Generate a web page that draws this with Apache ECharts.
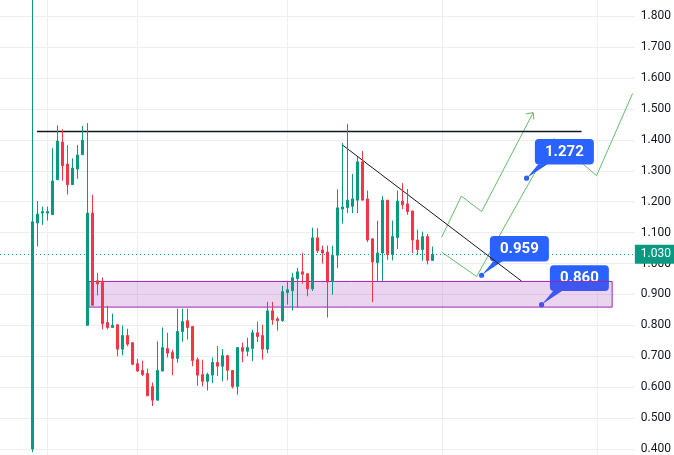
<!DOCTYPE html>
<html>
<head>
<meta charset="utf-8">
<script src="https://cdn.jsdelivr.net/npm/echarts@6/dist/echarts.min.js"></script>
<style>
html,body{margin:0;padding:0;background:#fff;}
#chart{width:674px;height:455px;}
</style>
</head>
<body>
<div id="chart"></div>
<script>
// ---- Candle data (daily-ish bars) ----
const opens  = [0.400,1.131,1.163,1.163,1.158,1.271,1.393,1.322,1.255,1.306,1.352,0.800,1.163,0.944,0.939,0.809,0.793,0.802,0.723,0.767,0.744,0.676,0.654,0.644,0.602,0.558,0.652,0.725,0.712,0.693,0.780,0.815,0.796,0.689,0.641,0.619,0.639,0.680,0.668,0.702,0.654,0.602,0.728,0.716,0.725,0.776,0.767,0.723,0.847,0.821,0.815,0.906,0.912,0.951,0.973,0.967,0.918,1.083,1.044,1.037,0.943,1.027,1.176,1.181,1.185,1.205,1.329,1.209,1.080,1.003,1.034,1.205,1.029,1.084,1.202,1.193,1.170,1.076,1.045,1.087,1.010];
const closes = [1.135,1.160,1.168,1.168,1.267,1.396,1.316,1.255,1.309,1.351,1.399,1.163,0.865,0.934,0.805,0.793,0.800,0.723,0.767,0.739,0.674,0.652,0.641,0.572,0.558,0.654,0.728,0.710,0.693,0.780,0.812,0.793,0.686,0.639,0.619,0.641,0.680,0.668,0.702,0.655,0.602,0.728,0.716,0.728,0.776,0.764,0.723,0.847,0.818,0.815,0.909,0.915,0.954,0.973,0.965,0.918,1.083,1.041,1.034,0.940,1.027,1.180,1.183,1.205,1.209,1.329,1.205,1.076,1.005,1.034,1.205,1.029,1.087,1.202,1.190,1.168,1.076,1.045,1.087,1.010,1.030];
const lows   = [0.390,1.055,1.125,1.139,1.158,1.270,1.268,1.223,1.255,1.274,1.352,0.800,0.865,0.897,0.787,0.787,0.793,0.700,0.703,0.732,0.671,0.650,0.636,0.571,0.539,0.558,0.652,0.696,0.639,0.679,0.747,0.754,0.668,0.605,0.603,0.589,0.613,0.636,0.619,0.622,0.596,0.576,0.681,0.700,0.684,0.746,0.690,0.710,0.802,0.783,0.812,0.867,0.848,0.858,0.935,0.894,0.911,1.034,1.000,0.825,0.899,0.985,1.129,1.163,1.163,1.163,1.205,1.069,0.875,0.944,0.944,1.012,1.010,1.047,1.176,1.158,1.034,1.028,1.009,0.997,1.010];
const highs  = [1.870,1.202,1.184,1.184,1.373,1.447,1.434,1.383,1.340,1.383,1.445,1.454,1.222,0.970,0.955,0.863,0.838,0.802,0.799,0.789,0.745,0.692,0.686,0.660,0.615,0.748,0.793,0.776,0.721,0.854,0.854,0.854,0.798,0.696,0.689,0.647,0.696,0.733,0.723,0.705,0.654,0.728,0.744,0.760,0.786,0.812,0.802,0.876,0.876,0.828,0.928,0.944,0.970,0.986,1.035,0.967,1.116,1.114,1.058,1.058,1.057,1.240,1.390,1.451,1.290,1.345,1.364,1.236,1.080,1.138,1.218,1.205,1.139,1.236,1.260,1.241,1.170,1.109,1.103,1.096,1.055];

// slot layout of the time axis
const leadSlots = 6;
const totalSlots = 127;

// ---- Axis ticks ----
const yMin = 0.4, yMax = 1.8, yStep = 0.1;
const lastPrice = 1.030;

// ---- Drawings (x in slot units, y in price) ----
const vGridX = [9, 27, 57, 88, 119];
const hLineX = [6.9, 115.84];
const hLineY = [1.427, 1.427];
const trendX = [67.96, 103.84];
const trendY = [1.384, 0.943];
const rectX = [17.3, 121.96];
const rectY = [0.942, 0.859];
const pathAX = [87.84, 91.8, 95.84, 106.16];
const pathAY = [1.085, 1.218, 1.168, 1.488];
const arrowX = [104.7, 106.16, 106.3];
const arrowY = [1.484, 1.488, 1.466];
const pathBX = [87.84, 94.84, 110.3, 118.84, 126.04];
const pathBY = [1.037, 0.958, 1.404, 1.284, 1.550];
const calloutX = [95.84, 104.84, 107.84];
const calloutY = [0.962, 1.276, 0.867];
const calloutText = ['0.959', '1.272', '0.860'];

const GREEN = '#089981', RED = '#f23645', BLUE = '#2962ff';
const GRID = '#eceef2';

const cats = [];
const candles = [];
for (let k = 0; k < totalSlots; k++) {
  cats.push(String(k));
  const i = k - leadSlots;
  if (i >= 0 && i < opens.length) candles.push([opens[i], closes[i], lows[i], highs[i]]);
  else candles.push('-');
}
const zip = (xs, ys) => xs.map((x, i) => [x, ys[i]]);

const chart = echarts.init(document.getElementById('chart'), null, {renderer: 'canvas'});

const series = [];
vGridX.forEach(x => series.push({
  type: 'line', xAxisIndex: 1, yAxisIndex: 0, z: 0, clip: false, silent: true,
  symbol: 'none', data: [[x, 0.3], [x, 1.95]],
  lineStyle: {color: GRID, width: 1}
}));
series.push({
  type: 'line', xAxisIndex: 1, yAxisIndex: 0, z: 4, symbol: 'none', silent: true,
  data: [[rectX[0], rectY[0]]], lineStyle: {width: 0},
  markArea: {
    silent: true, z: 4,
    itemStyle: {color: 'rgba(156,39,176,0.2)', borderColor: '#9c27b0', borderWidth: 1},
    data: [[{xAxis: rectX[0], yAxis: rectY[0]}, {xAxis: rectX[1], yAxis: rectY[1]}]]
  }
});
series.push({
  type: 'custom', xAxisIndex: 1, yAxisIndex: 0, z: 3, clip: false,
  data: zip(calloutX, calloutY),
  renderItem: function (params, api) {
    const p = api.coord([api.value(0), api.value(1)]);
    const bx = p[0] + 8.3, by = p[1] - 39.3, bw = 59, bh = 25.6;
    return {
      type: 'group',
      children: [
        {type: 'polygon', shape: {points: [[p[0] + 0.5, p[1] - 0.5], [p[0] + 11.5, by + bh], [p[0] + 22, by + bh - 1]]}, style: {fill: BLUE}},
        {type: 'rect', shape: {x: bx, y: by, width: bw, height: bh, r: 4}, style: {fill: BLUE}},
        {type: 'text', style: {text: calloutText[params.dataIndex], x: bx + bw / 2, y: by + bh / 2 + 0.5, align: 'center', verticalAlign: 'middle', fill: '#fff', font: 'bold 15px Roboto, "Liberation Sans", sans-serif'}},
        {type: 'circle', shape: {cx: p[0], cy: p[1], r: 2.6}, style: {fill: BLUE}}
      ]
    };
  }
});
series.push({
  type: 'line', xAxisIndex: 1, yAxisIndex: 0, z: 1, symbol: 'none', silent: true,
  data: zip(pathAX, pathAY), lineStyle: {color: '#66bb6a', width: 1}
});
series.push({
  type: 'line', xAxisIndex: 1, yAxisIndex: 0, z: 1, symbol: 'none', silent: true,
  data: zip(arrowX, arrowY), lineStyle: {color: '#66bb6a', width: 1}
});
series.push({
  type: 'line', xAxisIndex: 1, yAxisIndex: 0, z: 1, symbol: 'none', silent: true,
  data: zip(pathBX, pathBY), lineStyle: {color: '#66bb6a', width: 1}
});
series.push({
  type: 'line', xAxisIndex: 1, yAxisIndex: 0, z: 3, symbol: 'none', silent: true,
  data: zip(hLineX, hLineY), lineStyle: {color: '#131722', width: 1.3}
});
series.push({
  type: 'line', xAxisIndex: 1, yAxisIndex: 0, z: 3, symbol: 'none', silent: true,
  data: zip(trendX, trendY), lineStyle: {color: '#131722', width: 1}
});
series.push({
  type: 'candlestick', xAxisIndex: 0, yAxisIndex: 0, z: 5, clip: false,
  barWidth: 3,
  data: candles,
  itemStyle: {color: GREEN, color0: RED, borderColor: GREEN, borderColor0: RED, borderWidth: 1},
  markLine: {
    silent: true, symbol: 'none', animation: false, z: 2,
    lineStyle: {color: GREEN, type: [1, 3], width: 1},
    label: {
      show: true, position: 'end', distance: 0,
      formatter: () => lastPrice.toFixed(3),
      color: '#fff', backgroundColor: GREEN, padding: [3, 5, 3, 6],
      fontSize: 12, fontFamily: 'Roboto, "Liberation Sans", sans-serif', lineHeight: 13
    },
    data: [{yAxis: lastPrice}]
  }
});

chart.setOption({
  animation: false,
  backgroundColor: '#ffffff',
  grid: {left: 0, right: 39, top: 16.2, bottom: 4.5, containLabel: false},
  xAxis: [
    {type: 'category', data: cats, boundaryGap: true, show: false},
    {type: 'value', min: -0.5, max: totalSlots - 0.5, show: false}
  ],
  yAxis: {
    type: 'value', position: 'right', min: yMin, max: yMax, interval: yStep,
    axisLine: {show: false}, axisTick: {show: false},
    splitLine: {show: true, lineStyle: {color: GRID, width: 1}},
    axisLabel: {
      margin: 6, color: '#131722', fontSize: 12,
      fontFamily: 'Roboto, "Liberation Sans", sans-serif',
      formatter: v => v.toFixed(3)
    }
  },
  series: series
});
</script>
</body>
</html>
